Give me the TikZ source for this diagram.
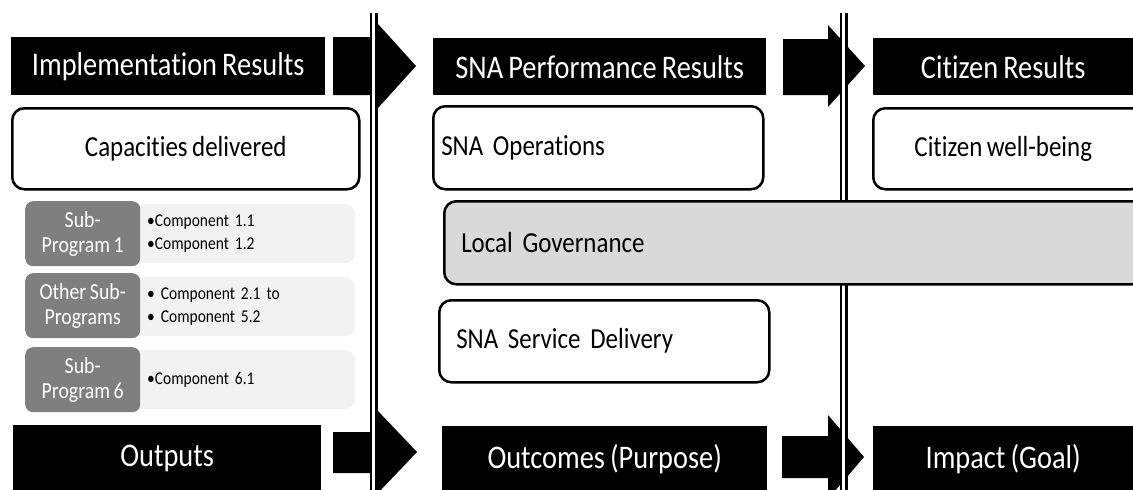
\documentclass[tikz,border=0pt]{standalone}
\usepackage{fontspec}
\setmainfont{Carlito}[FakeStretch=0.86, Ligatures=CommonOff, WordSpace=0.8]
\definecolor{darkgr}{HTML}{7F7F7F}
\definecolor{lightgr}{HTML}{F2F2F2}
\definecolor{midgr}{HTML}{D9D9D9}
\begin{document}
\begin{tikzpicture}[x=1pt,y=-1pt,
  hdr/.style={fill=black, text=white, inner sep=0pt, anchor=north west,
    font=\fontsize{33}{36}\selectfont},
  rbox/.style={draw=black, line width=2.5pt, rounded corners=12pt, fill=white,
    anchor=north west, font=\fontsize{29}{32}\selectfont},
  lbox/.style={rbox, align=left, inner xsep=17pt},
  subbox/.style={fill=darkgr, text=white, rounded corners=8pt, anchor=north west,
    inner sep=0pt, align=center, minimum width=115pt, minimum height=65pt,
    font=\fontsize{23}{25}\selectfont},
  compbox/.style={fill=lightgr, rounded corners=10pt, anchor=north west,
    inner xsep=17pt, inner ysep=0pt, text width=191pt, minimum height=59pt,
    align=left, font=\fontsize{18}{23}\selectfont},
  blockarrow/.style={fill=black},
  dline/.style={line width=8pt},
  dlinein/.style={white, line width=2.5pt}]
\useasboundingbox (0,0) rectangle (1133,490);
\clip (0,0) rectangle (1133,490);

% block arrows
\fill[blockarrow] (333,37) -- (378,37) -- (378,24) -- (416,66) -- (378,108) -- (378,95) -- (333,95) -- cycle;
\fill[blockarrow] (783,39) -- (828,39) -- (828,25) -- (865,66) -- (828,107) -- (828,95) -- (783,95) -- cycle;
\fill[blockarrow] (333,432) -- (377,432) -- (377,410) -- (417,452) -- (377,494) -- (377,473) -- (333,473) -- cycle;
\fill[blockarrow] (782,436) -- (828,436) -- (828,415) -- (864,457) -- (828,499) -- (828,478) -- (782,478) -- cycle;

% double vertical lines
\coordinate (l1t) at (373.5,13); \coordinate (l1b) at (373.5,495);
\coordinate (l2t) at (843.5,13); \coordinate (l2b) at (843.5,495);
\draw[dline] (l1t) -- (l1b);
\draw[dlinein] (l1t) -- (l1b);
\draw[dline] (l2t) -- (l2b);
\draw[dlinein] (l2t) -- (l2b);

% headers
\node[hdr, minimum width=314pt, minimum height=58pt] (h1) at (11,37) {Implementation Results};
\node[hdr, minimum width=333pt, minimum height=57pt] (h2) at (433,38) {SNA Performance Results};
\node[hdr, minimum width=260pt, minimum height=57pt] (h3) at (873,38) {Citizen Results};
\node[hdr, minimum width=308pt, minimum height=66pt] (f1) at (13,425) {Outputs};
\node[hdr, minimum width=325pt, minimum height=66pt] (f2) at (442,426) {Outcomes (Purpose)};
\node[hdr, minimum width=260pt, minimum height=66pt] (f3) at (873,426) {Impact (Goal)};

% rounded boxes
\node[rbox, minimum width=347pt, minimum height=81pt] (cap) at (11,107) {Capacities delivered};
\node[lbox, inner xsep=8pt, text width=314pt, minimum height=83pt] (ops) at (432,105) {SNA Operations};
\node[rbox, minimum width=270pt, minimum height=81pt, inner sep=0pt] (well) at (872,107) {\hspace*{-10pt}Citizen well-being};
\node[lbox, fill=midgr, text width=666pt, minimum height=83pt] (gov) at (443,200) {Local Governance};
\node[lbox, text width=296pt, minimum height=82pt] (serv) at (438,299) {SNA Service Delivery};

% sub-programs
\node[compbox] (c1) at (130,204) {\textbullet Component 1.1\\\textbullet Component 1.2};
\node[compbox] (c2) at (130,277) {\textbullet{} Component 2.1 to\\\textbullet{} Component 5.2};
\node[compbox] (c3) at (130,350) {\textbullet Component 6.1};
\node[subbox] (s1) at (25,201) {Sub-\\Program 1};
\node[subbox] (s2) at (25,273) {Other Sub-\\Programs};
\node[subbox] (s3) at (25,347) {Sub-\\Program 6};
\end{tikzpicture}
\end{document}
